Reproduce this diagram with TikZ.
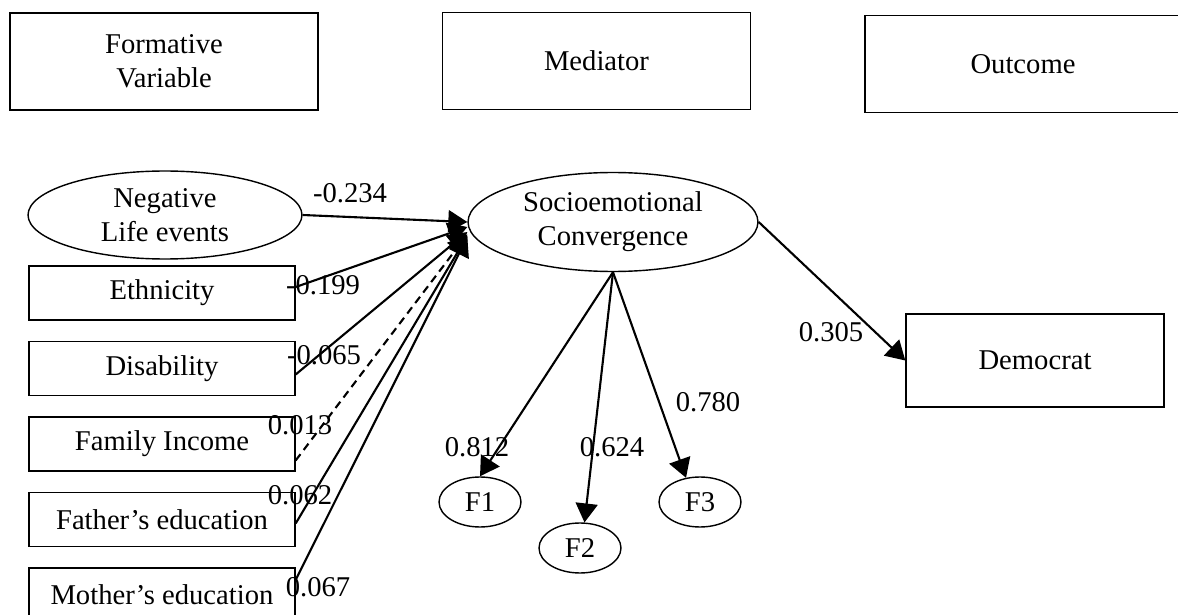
\documentclass[tikz,border=0pt]{standalone}
\usepackage{fontspec}
\setmainfont{Liberation Serif}
\usetikzlibrary{arrows.meta,positioning,shapes.geometric}
\tikzset{
  head/.style={draw, line width=0.8pt, minimum width=6.16cm, minimum height=1.94cm, align=center},
  obs/.style={draw, line width=0.8pt, minimum width=5.32cm, minimum height=1.08cm},
  lat/.style={draw, ellipse, line width=0.8pt, inner sep=0pt, align=center},
  link/.style={line width=1.2pt, -{Triangle[length=0.38cm,width=0.44cm]}},
  coef/.style={inner sep=0pt}
}

\begin{document}
\begin{tikzpicture}[x=0.02cm, y=-0.02cm, node distance=1.51cm, font=\fontsize{16.3}{19.5}\selectfont]
    \useasboundingbox (0,0) rectangle (1178,615);
    \clip (0,0) rectangle (1178,615);

    % column headers
    \node[head](form) at (164,61.5){Formative\\Variable};
    \node[head](med) at (596.5,61){Mediator};
    \node[head, minimum width=6.32cm](out) at (1023,64){Outcome};

    % formative variables
    \node[lat, minimum width=5.48cm, minimum height=1.76cm](neg) at (165,215){Negative\\Life events};
    \node[obs](eth) at (162,293){Ethnicity};
    \node[obs](dis)[below of=eth]{Disability};
    \node[obs](inc)[below of=dis]{Family Income};
    \node[obs](fat)[below of=inc]{Father's education};
    \node[obs](mot)[below of=fat]{Mother's education};

    % mediator and outcome
    \node[lat, minimum width=5.8cm, minimum height=1.98cm](soc) at (613,222){Socioemotional\\Convergence};
    \node[obs, minimum width=5.16cm, minimum height=1.86cm](dem) at (1035,360.5){Democrat};
    \node[lat, minimum width=1.64cm, minimum height=1cm](f1) at (480,502){F1};
    \node[lat, minimum width=1.64cm, minimum height=1cm](f2) at (580,548){F2};
    \node[lat, minimum width=1.64cm, minimum height=1cm](f3) at (700,502){F3};

    \draw[link] (neg.east) -- (soc.west);
    \draw[link] ([yshift=0.12cm]eth.east) -- ([yshift=-0.1cm]soc.west);
    \draw[link] ([yshift=-0.12cm]dis.east) -- ([yshift=-0.2cm]soc.west);
    \draw[link, dash pattern=on 4.5pt off 3pt] ([yshift=-0.33cm]inc.east) -- ([yshift=-0.25cm]soc.west);
    \draw[link] ([yshift=-0.08cm]fat.east) -- ([yshift=-0.28cm]soc.west);
    \draw[link] ([yshift=0.3cm]mot.east) -- ([yshift=-0.3cm]soc.west);
    \draw[link] (soc.south) -- (f1.north);
    \draw[link] (soc.south) -- (f2.80);
    \draw[link] (soc.south) -- (f3.120);
    \draw[link] (soc.east) -- (dem.west);

    % path coefficients
    \node[coef](c1) at (350,193){-0.234};
    \node[coef](c2) at (323,285){-0.199};
    \node[coef](c3) at (324,355){-0.065};
    \node[coef](c4) at (300,425){0.013};
    \node[coef](c5) at (300,495){0.062};
    \node[coef](c6) at (318,587){0.067};
    \node[coef](c7) at (477,447){0.812};
    \node[coef](c8) at (612,447){0.624};
    \node[coef](c9) at (708,402){0.780};
    \node[coef](c10) at (831,332){0.305};
\end{tikzpicture}
\end{document}
